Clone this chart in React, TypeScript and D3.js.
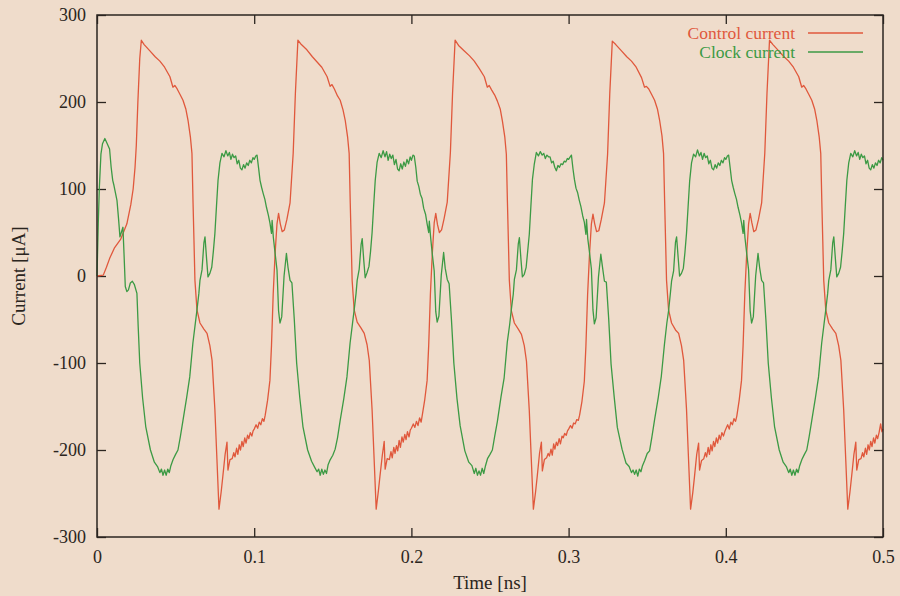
import React, { useEffect, useRef } from 'react'
import * as d3 from 'd3'

const xTicks = [0, 0.1, 0.2, 0.3, 0.4, 0.5]
const yTicks = [-300, -200, -100, 0, 100, 200, 300]
const seriesNames = ['Control current', 'Clock current']
const seriesColors = ['#e0583c', '#3c9a44']

// [time (ns), current (uA)]
const controlCurrent = [
  [0.0000, 0], [0.0040, 1], [0.0060, 10], [0.0080, 20], [0.0110, 32], [0.0150, 42], [0.0190, 60], [0.0215, 82], [0.0230, 100], [0.0242, 125], [0.0250, 150], [0.0260, 200], [0.0272, 250], [0.0282, 271],
  [0.0300, 266], [0.0335, 259], [0.0370, 252], [0.0400, 247], [0.0430, 240], [0.0464, 229], [0.0483, 217], [0.0495, 219], [0.0510, 215], [0.0530, 208], [0.0547, 202], [0.0565, 192], [0.0579, 179], [0.0594, 160], [0.0604, 141], [0.0611, 84], [0.0617, 40], [0.0623, -5], [0.0636, -39], [0.0655, -54], [0.0680, -61], [0.0700, -66], [0.0718, -80], [0.0732, -97], [0.0750, -154], [0.0763, -211], [0.0776, -268], [0.0790, -248], [0.0800, -231], [0.0815, -205], [0.0827, -191], [0.0833, -223], [0.0846, -211], [0.0860, -210], [0.0870, -203], [0.0878, -208], [0.0888, -198], [0.0896, -205], [0.0905, -194], [0.0913, -200], [0.0922, -190], [0.0930, -196], [0.0940, -186], [0.0948, -192], [0.0958, -183], [0.0966, -187], [0.0975, -180], [0.0985, -184], [0.0993, -178],
  [0.1000, -176], [0.1012, -171], [0.1022, -175], [0.1032, -168], [0.1042, -171], [0.1052, -164], [0.1062, -167], [0.1070, -160], [0.1085, -143], [0.1100, -120], [0.1110, -80], [0.1121, -20], [0.1133, 26], [0.1145, 60], [0.1155, 72], [0.1166, 60], [0.1178, 51], [0.1192, 53], [0.1208, 65], [0.1228, 84], [0.1248, 141], [0.1262, 210], [0.1278, 271],
  [0.1300, 266], [0.1335, 260], [0.1370, 252], [0.1400, 246], [0.1430, 240], [0.1464, 229], [0.1483, 218], [0.1495, 220], [0.1510, 215], [0.1530, 207], [0.1547, 202], [0.1565, 191], [0.1579, 179], [0.1594, 160], [0.1604, 141], [0.1611, 84], [0.1617, 40], [0.1623, -5], [0.1636, -39], [0.1655, -53], [0.1680, -60], [0.1700, -66], [0.1718, -79], [0.1732, -97], [0.1750, -154], [0.1763, -211], [0.1776, -268], [0.1790, -247], [0.1800, -230], [0.1815, -206], [0.1827, -190], [0.1833, -222], [0.1846, -210], [0.1860, -211], [0.1870, -202], [0.1878, -209], [0.1888, -197], [0.1896, -204], [0.1905, -195], [0.1913, -201], [0.1922, -189], [0.1930, -197], [0.1940, -185], [0.1948, -191], [0.1958, -182], [0.1966, -188], [0.1975, -179], [0.1985, -185], [0.1993, -177],
  [0.2000, -175], [0.2012, -170], [0.2022, -174], [0.2032, -167], [0.2042, -172], [0.2052, -163], [0.2062, -168], [0.2070, -159], [0.2085, -142], [0.2100, -120], [0.2110, -80], [0.2121, -20], [0.2133, 26], [0.2145, 61], [0.2155, 72], [0.2166, 59], [0.2178, 50], [0.2192, 53], [0.2208, 66], [0.2228, 85], [0.2248, 142], [0.2262, 211], [0.2278, 271],
  [0.2300, 265], [0.2335, 259], [0.2370, 253], [0.2400, 247], [0.2430, 239], [0.2464, 229], [0.2483, 217], [0.2495, 219], [0.2510, 214], [0.2530, 208], [0.2547, 201], [0.2565, 192], [0.2579, 178], [0.2594, 160], [0.2604, 140], [0.2611, 84], [0.2617, 40], [0.2623, -5], [0.2636, -40], [0.2655, -54], [0.2680, -61], [0.2700, -67], [0.2718, -80], [0.2732, -98], [0.2750, -155], [0.2763, -212], [0.2776, -268], [0.2790, -248], [0.2800, -231], [0.2815, -204], [0.2827, -191], [0.2833, -224], [0.2846, -211], [0.2860, -209], [0.2870, -204], [0.2878, -207], [0.2888, -199], [0.2896, -206], [0.2905, -193], [0.2913, -199], [0.2922, -191], [0.2930, -195], [0.2940, -187], [0.2948, -193], [0.2958, -184], [0.2966, -186], [0.2975, -181], [0.2985, -183], [0.2993, -178],
  [0.3000, -176], [0.3012, -172], [0.3022, -175], [0.3032, -169], [0.3042, -170], [0.3052, -165], [0.3062, -166], [0.3070, -160], [0.3085, -144], [0.3100, -121], [0.3110, -81], [0.3121, -21], [0.3133, 25], [0.3145, 60], [0.3155, 71], [0.3166, 60], [0.3178, 51], [0.3192, 52], [0.3208, 65], [0.3228, 84], [0.3248, 140], [0.3262, 210], [0.3278, 270],
  [0.3300, 266], [0.3335, 259], [0.3370, 252], [0.3400, 247], [0.3430, 240], [0.3464, 228], [0.3483, 217], [0.3495, 218], [0.3510, 215], [0.3530, 208], [0.3547, 202], [0.3565, 192], [0.3579, 179], [0.3594, 161], [0.3604, 141], [0.3611, 85], [0.3617, 40], [0.3623, -5], [0.3636, -39], [0.3655, -54], [0.3680, -62], [0.3700, -66], [0.3718, -80], [0.3732, -97], [0.3750, -153], [0.3763, -211], [0.3776, -268], [0.3790, -249], [0.3800, -232], [0.3815, -205], [0.3827, -192], [0.3833, -223], [0.3846, -212], [0.3860, -210], [0.3870, -203], [0.3878, -208], [0.3888, -197], [0.3896, -205], [0.3905, -194], [0.3913, -201], [0.3922, -190], [0.3930, -196], [0.3940, -186], [0.3948, -192], [0.3958, -183], [0.3966, -188], [0.3975, -180], [0.3985, -184], [0.3993, -179],
  [0.4000, -176], [0.4012, -171], [0.4022, -176], [0.4032, -168], [0.4042, -171], [0.4052, -164], [0.4062, -167], [0.4070, -161], [0.4085, -143], [0.4100, -120], [0.4110, -80], [0.4121, -20], [0.4133, 26], [0.4145, 60], [0.4155, 72], [0.4166, 61], [0.4178, 51], [0.4192, 53], [0.4208, 65], [0.4228, 84], [0.4248, 141], [0.4262, 210], [0.4278, 271],
  [0.4300, 266], [0.4335, 259], [0.4370, 252], [0.4400, 247], [0.4430, 240], [0.4464, 229], [0.4483, 217], [0.4495, 219], [0.4510, 215], [0.4530, 208], [0.4547, 202], [0.4565, 192], [0.4579, 179], [0.4594, 160], [0.4604, 141], [0.4611, 84], [0.4617, 40], [0.4623, -5], [0.4636, -39], [0.4655, -54], [0.4680, -61], [0.4700, -66], [0.4718, -80], [0.4732, -97], [0.4750, -154], [0.4763, -211], [0.4776, -268], [0.4790, -248], [0.4800, -231], [0.4815, -205], [0.4827, -191], [0.4833, -223], [0.4846, -211], [0.4860, -210], [0.4870, -203], [0.4878, -208], [0.4888, -198], [0.4896, -205], [0.4905, -194], [0.4913, -200], [0.4922, -190], [0.4930, -196], [0.4940, -186], [0.4948, -192], [0.4958, -183], [0.4966, -187], [0.4975, -180], [0.4985, -170], [0.4993, -179], [0.5000, -176],
]

const clockCurrent = [
  [0.0000, 0], [0.0008, 60], [0.0015, 102], [0.0025, 140], [0.0035, 152], [0.0050, 158], [0.0065, 152], [0.0080, 146], [0.0090, 125], [0.0100, 110], [0.0108, 104], [0.0118, 95], [0.0127, 87], [0.0137, 66], [0.0146, 45], [0.0158, 52], [0.0165, 56], [0.0172, 25], [0.0180, -12], [0.0190, -18], [0.0200, -16], [0.0212, -8], [0.0225, -6], [0.0238, -10], [0.0254, -20], [0.0262, -58],
  [0.0272, -100], [0.0290, -140], [0.0310, -173], [0.0340, -200], [0.0365, -214], [0.0385, -219], [0.0400, -226], [0.0410, -222], [0.0420, -229], [0.0430, -223], [0.0440, -229], [0.0450, -222], [0.0460, -226], [0.0470, -218], [0.0484, -211], [0.0500, -205], [0.0515, -200], [0.0530, -185], [0.0547, -166], [0.0570, -140], [0.0590, -116], [0.0610, -77], [0.0625, -55], [0.0636, -39], [0.0648, -20], [0.0655, -5], [0.0668, 7], [0.0680, 38], [0.0687, 45], [0.0697, 20], [0.0706, -1], [0.0718, 3], [0.0730, 10], [0.0740, 28], [0.0750, 49], [0.0760, 80], [0.0770, 110], [0.0782, 130], [0.0795, 141], [0.0808, 137], [0.0820, 144], [0.0832, 138], [0.0842, 142], [0.0852, 134], [0.0862, 140], [0.0872, 136], [0.0882, 138], [0.0892, 129], [0.0902, 133], [0.0912, 124], [0.0922, 122], [0.0932, 128], [0.0942, 124], [0.0952, 130], [0.0962, 127], [0.0972, 133], [0.0982, 130], [0.0992, 136],
  [0.1000, 134], [0.1010, 138], [0.1018, 139], [0.1028, 124], [0.1037, 110], [0.1047, 102], [0.1057, 95], [0.1068, 88], [0.1078, 79], [0.1090, 70], [0.1100, 61], [0.1110, 49], [0.1114, 64], [0.1122, 44], [0.1133, 26], [0.1145, 7], [0.1155, -40], [0.1164, -54], [0.1175, -47], [0.1190, 0], [0.1205, 26], [0.1215, 10], [0.1228, -5], [0.1240, -8], [0.1255, -50], [0.1270, -100],
  [0.1290, -140], [0.1310, -173], [0.1340, -200], [0.1365, -213], [0.1385, -220], [0.1400, -225], [0.1410, -222], [0.1420, -229], [0.1430, -222], [0.1440, -228], [0.1450, -223], [0.1460, -227], [0.1470, -217], [0.1484, -211], [0.1500, -206], [0.1515, -199], [0.1530, -186], [0.1547, -166], [0.1570, -141], [0.1590, -116], [0.1610, -77], [0.1625, -55], [0.1636, -39], [0.1648, -20], [0.1655, -5], [0.1668, 8], [0.1680, 36], [0.1687, 43], [0.1697, 18], [0.1706, -2], [0.1718, 4], [0.1730, 11], [0.1740, 28], [0.1750, 50], [0.1760, 81], [0.1770, 110], [0.1782, 131], [0.1795, 141], [0.1808, 136], [0.1820, 144], [0.1832, 137], [0.1842, 143], [0.1852, 133], [0.1862, 140], [0.1872, 135], [0.1882, 139], [0.1892, 128], [0.1902, 134], [0.1912, 123], [0.1922, 121], [0.1932, 129], [0.1942, 123], [0.1952, 131], [0.1962, 126], [0.1972, 134], [0.1982, 129], [0.1992, 137],
  [0.2000, 133], [0.2010, 139], [0.2018, 138], [0.2028, 125], [0.2037, 109], [0.2047, 103], [0.2057, 94], [0.2068, 89], [0.2078, 78], [0.2090, 71], [0.2100, 60], [0.2110, 50], [0.2114, 63], [0.2122, 45], [0.2133, 25], [0.2145, 6], [0.2155, -41], [0.2164, -53], [0.2175, -46], [0.2190, 1], [0.2205, 27], [0.2215, 9], [0.2228, -4], [0.2240, -9], [0.2255, -51], [0.2270, -100],
  [0.2290, -141], [0.2310, -172], [0.2340, -201], [0.2365, -214], [0.2385, -218], [0.2400, -227], [0.2410, -221], [0.2420, -229], [0.2430, -224], [0.2440, -229], [0.2450, -221], [0.2460, -227], [0.2470, -219], [0.2484, -210], [0.2500, -205], [0.2515, -200], [0.2530, -184], [0.2547, -167], [0.2570, -139], [0.2590, -117], [0.2610, -76], [0.2625, -56], [0.2636, -38], [0.2648, -21], [0.2655, -4], [0.2668, 7], [0.2680, 37], [0.2687, 44], [0.2697, 19], [0.2706, -1], [0.2718, 2], [0.2730, 10], [0.2740, 29], [0.2750, 48], [0.2760, 80], [0.2770, 111], [0.2782, 129], [0.2795, 142], [0.2808, 138], [0.2820, 143], [0.2832, 139], [0.2842, 141], [0.2852, 135], [0.2862, 139], [0.2872, 137], [0.2882, 137], [0.2892, 130], [0.2902, 132], [0.2912, 125], [0.2922, 121], [0.2932, 127], [0.2942, 125], [0.2952, 129], [0.2962, 128], [0.2972, 132], [0.2982, 131], [0.2992, 135],
  [0.3000, 134], [0.3010, 137], [0.3018, 139], [0.3028, 123], [0.3037, 111], [0.3047, 101], [0.3057, 96], [0.3068, 87], [0.3078, 80], [0.3090, 69], [0.3100, 62], [0.3110, 48], [0.3114, 65], [0.3122, 43], [0.3133, 27], [0.3145, 8], [0.3155, -39], [0.3164, -55], [0.3175, -48], [0.3190, -1], [0.3205, 25], [0.3215, 11], [0.3228, -6], [0.3240, -7], [0.3255, -49], [0.3270, -101],
  [0.3290, -139], [0.3310, -174], [0.3340, -199], [0.3365, -215], [0.3385, -219], [0.3400, -226], [0.3410, -223], [0.3420, -228], [0.3430, -223], [0.3440, -230], [0.3450, -222], [0.3460, -225], [0.3470, -218], [0.3484, -212], [0.3500, -204], [0.3515, -201], [0.3530, -185], [0.3547, -165], [0.3570, -140], [0.3590, -115], [0.3610, -78], [0.3625, -54], [0.3636, -40], [0.3648, -19], [0.3655, -6], [0.3668, 6], [0.3680, 39], [0.3687, 45], [0.3697, 21], [0.3706, 0], [0.3718, 3], [0.3730, 9], [0.3740, 27], [0.3750, 49], [0.3760, 79], [0.3770, 109], [0.3782, 130], [0.3795, 140], [0.3808, 137], [0.3820, 145], [0.3832, 138], [0.3842, 142], [0.3852, 134], [0.3862, 141], [0.3872, 136], [0.3882, 138], [0.3892, 129], [0.3902, 133], [0.3912, 124], [0.3922, 122], [0.3932, 128], [0.3942, 124], [0.3952, 130], [0.3962, 127], [0.3972, 133], [0.3982, 130], [0.3992, 136],
  [0.4000, 134], [0.4010, 138], [0.4018, 139], [0.4028, 124], [0.4037, 110], [0.4047, 102], [0.4057, 95], [0.4068, 88], [0.4078, 79], [0.4090, 70], [0.4100, 61], [0.4110, 49], [0.4114, 64], [0.4122, 44], [0.4133, 26], [0.4145, 7], [0.4155, -40], [0.4164, -54], [0.4175, -47], [0.4190, 0], [0.4205, 26], [0.4215, 10], [0.4228, -5], [0.4240, -8], [0.4255, -50], [0.4270, -100],
  [0.4290, -140], [0.4310, -173], [0.4340, -200], [0.4365, -214], [0.4385, -219], [0.4400, -226], [0.4410, -222], [0.4420, -229], [0.4430, -223], [0.4440, -229], [0.4450, -222], [0.4460, -226], [0.4470, -218], [0.4484, -211], [0.4500, -205], [0.4515, -200], [0.4530, -185], [0.4547, -166], [0.4570, -140], [0.4590, -116], [0.4610, -77], [0.4625, -55], [0.4636, -39], [0.4648, -20], [0.4655, -5], [0.4668, 7], [0.4680, 38], [0.4687, 45], [0.4697, 20], [0.4706, -1], [0.4718, 3], [0.4730, 10], [0.4740, 28], [0.4750, 49], [0.4760, 80], [0.4770, 110], [0.4782, 130], [0.4795, 141], [0.4808, 137], [0.4820, 144], [0.4832, 138], [0.4842, 142], [0.4852, 134], [0.4862, 140], [0.4872, 136], [0.4882, 138], [0.4892, 129], [0.4902, 133], [0.4912, 124], [0.4922, 122], [0.4932, 128], [0.4942, 124], [0.4952, 130], [0.4962, 127], [0.4972, 133], [0.4982, 130], [0.4992, 136], [0.5000, 133],
]

const series = [controlCurrent, clockCurrent]

export default function App() {
  const axesRef = useRef<SVGGElement>(null)

  const width = 900
  const height = 596
  const margin = { top: 15, right: 17, bottom: 59, left: 97 }
  const font = '"Liberation Serif", "DejaVu Serif", serif'
  const ink = '#2b2520'

  const x = d3.scaleLinear().domain([0, 0.5]).range([margin.left, width - margin.right])
  const y = d3.scaleLinear().domain([-300, 300]).range([height - margin.bottom, margin.top])

  const line = d3.line<number[]>()
    .x(d => x(d[0]))
    .y(d => y(d[1]))

  useEffect(() => {
    const g = d3.select(axesRef.current)
    g.selectAll('*').remove()
    const fmt = (d: any) => String(d)

    g.append('g')
      .attr('transform', `translate(0,${y(-300)})`)
      .call(d3.axisBottom(x).tickValues(xTicks).tickSize(-9).tickPadding(13).tickFormat(fmt))
    g.append('g')
      .attr('transform', `translate(0,${y(300)})`)
      .call(d3.axisTop(x).tickValues(xTicks).tickSize(-9).tickFormat(() => ''))
    g.append('g')
      .attr('transform', `translate(${x(0)},0)`)
      .call(d3.axisLeft(y).tickValues(yTicks).tickSize(-9).tickPadding(11).tickFormat(fmt))
    g.append('g')
      .attr('transform', `translate(${x(0.5)},0)`)
      .call(d3.axisRight(y).tickValues(yTicks).tickSize(-9).tickFormat(() => ''))

    g.selectAll('.domain').remove()
    g.selectAll('.tick line').attr('stroke', ink).attr('stroke-width', 1.3)
    g.selectAll('.tick text')
      .attr('fill', ink)
      .style('font-family', font)
      .style('font-size', '18px')
  }, [])

  return (
    <svg width={width} height={height} style={{ position: 'absolute', left: 0, top: 0, background: '#efdccb' }}>
      <rect x={0} y={0} width={width} height={height} fill="#efdccb" />
      <g ref={axesRef} />
      {series.map((s, i) => (
        <path key={i} d={line(s) || ''} fill="none" stroke={seriesColors[i]} strokeWidth={1.3} strokeLinejoin="round" />
      ))}
      <rect x={x(0)} y={y(300)} width={x(0.5) - x(0)} height={y(-300) - y(300)} fill="none" stroke={ink} strokeWidth={1.5} />

      {seriesNames.map((name, i) => (
        <g key={name}>
          <text x={795} y={39 + i * 19} textAnchor="end" fill={seriesColors[i]} style={{ fontFamily: font, fontSize: 17.5 }}>{name}</text>
          <line x1={808} x2={863} y1={33 + i * 19} y2={33 + i * 19} stroke={seriesColors[i]} strokeWidth={1.3} />
        </g>
      ))}

      <text x={490} y={589} textAnchor="middle" fill={ink} style={{ fontFamily: font, fontSize: 19 }}>Time [ns]</text>
      <text transform={`translate(25,${y(0)}) rotate(-90)`} textAnchor="middle" fill={ink} style={{ fontFamily: font, fontSize: 19 }}>Current [μA]</text>
    </svg>
  )
}
